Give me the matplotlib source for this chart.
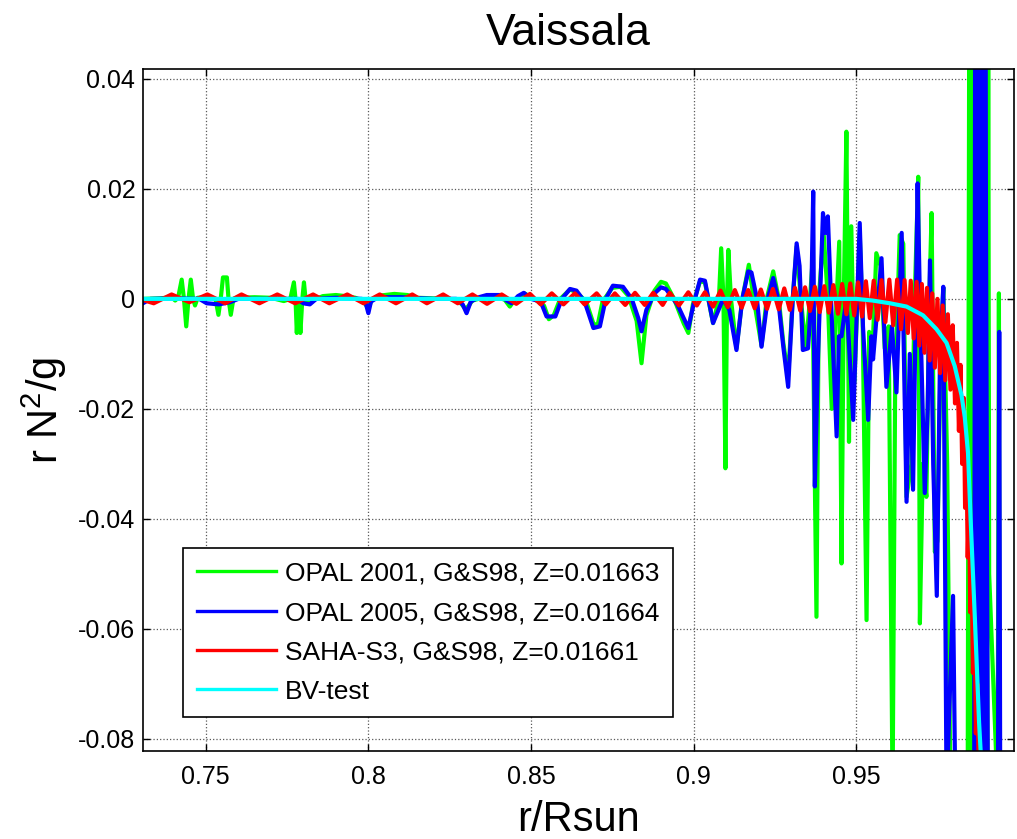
import numpy as np
import matplotlib
matplotlib.use('Agg')
import matplotlib.pyplot as plt

plt.rcParams['font.family'] = ['Liberation Sans', 'DejaVu Sans']
plt.rcParams['mathtext.default'] = 'regular'
plt.rcParams['axes.unicode_minus'] = False

# ---- data (r/Rsun, r N^2/g) ----
r_opal01 = [0.7307, 0.7360, 0.7395, 0.7406, 0.7415, 0.7426, 0.7433, 0.7440, 0.7447, 0.7454,
            0.7461, 0.7467, 0.7475, 0.7500, 0.7530, 0.7539, 0.7546, 0.7553, 0.7565, 0.7570,
            0.7577, 0.7585, 0.7595, 0.7650, 0.7700, 0.7740, 0.7760, 0.7771, 0.7776, 0.7780,
            0.7785, 0.7791, 0.7797, 0.7802, 0.7808, 0.7818, 0.7830, 0.7860, 0.7900, 0.7930,
            0.7960, 0.7985, 0.8000, 0.8010, 0.8036, 0.8080, 0.8120, 0.8150, 0.8200, 0.8250,
            0.8280, 0.8300, 0.8320, 0.8364, 0.8400, 0.8420, 0.8435, 0.8450, 0.8480, 0.8510,
            0.8540, 0.8555, 0.8570, 0.8590, 0.8620, 0.8640, 0.8670, 0.8692, 0.8705, 0.8720,
            0.8750, 0.8775, 0.8800, 0.8825, 0.8840, 0.8855, 0.8880, 0.8900, 0.8915, 0.8940,
            0.8970, 0.8984, 0.8998, 0.9020, 0.9035, 0.9060, 0.9078, 0.9085, 0.9092, 0.9098,
            0.9103, 0.9107, 0.9115, 0.9132, 0.9150, 0.9170, 0.9185, 0.9209, 0.9225, 0.9245,
            0.9262, 0.9276, 0.9291, 0.9305, 0.9317, 0.9330, 0.9345, 0.9358, 0.9365, 0.9378,
            0.9385, 0.9400, 0.9413, 0.9425, 0.9440, 0.9448, 0.9455, 0.9462, 0.9470, 0.9478,
            0.9485, 0.9495, 0.9511, 0.9520, 0.9532, 0.9540, 0.9550, 0.9562, 0.9575, 0.9588,
            0.9600, 0.9612, 0.9620, 0.9634, 0.9645, 0.9655, 0.9670, 0.9680, 0.9691, 0.9696,
            0.9705, 0.9716, 0.9725, 0.9732, 0.9742, 0.9750, 0.9760, 0.9768, 0.9780, 0.9790,
            0.9843, 0.9848, 0.9853, 0.9858, 0.9862, 0.9896, 0.9899, 0.9903, 0.9906, 0.9909,
            0.9935, 0.9939, 0.9941]
y_opal01 = [0.0, 0.0001, 0.0003, -0.0003, 0.0002, 0.0035, 0.0, -0.0050, 0.0, 0.0035,
            0.0, -0.0012, 0.0002, 0.0003, 0.0, -0.0029, 0.0, 0.0039, 0.0039, 0.0,
            -0.0029, 0.0, 0.0002, 0.0003, 0.0002, -0.0004, 0.0, 0.0030, 0.0, -0.0062,
            0.0, -0.0062, 0.0, 0.0030, -0.0008, -0.0004, -0.0002, 0.0005, 0.0007, 0.0005,
            0.0002, -0.0004, -0.0018, -0.0002, 0.0006, 0.0009, 0.0007, 0.0002, 0.0001, 0.0,
            -0.0005, -0.0019, -0.0003, 0.0004, 0.0003, -0.0002, -0.0014, -0.0002, 0.0010, 0.0,
            -0.0012, -0.0037, -0.0030, 0.0, 0.0017, 0.0012, -0.0005, -0.0045, -0.0048, -0.0005,
            0.0020, 0.0022, 0.0005, -0.0040, -0.0117, -0.0030, 0.0015, 0.0031, 0.0028, 0.0,
            -0.0045, -0.0062, -0.0010, 0.0032, 0.0030, -0.0044, 0.0, 0.0092, 0.0, -0.0308,
            0.0, 0.0089, 0.0, -0.0090, 0.0, 0.0062, 0.0, -0.0085, 0.0, 0.0050,
            0.0, -0.0080, -0.0140, 0.0, 0.0095, 0.0, -0.0090, 0.0, 0.0060, -0.0578,
            0.0, 0.0120, 0.0, -0.0200, 0.0, 0.0104, -0.0481, 0.0, 0.0304, -0.0260,
            0.0132, -0.0150, 0.0120, -0.0040, -0.0584, -0.0060, -0.0100, 0.0083, 0.0060, -0.0090,
            -0.0050, -0.0900, -0.0150, 0.0116, 0.0100, -0.0360, -0.0300, 0.0, 0.0222, -0.0590,
            -0.0300, -0.0360, 0.0, 0.0156, -0.0460, -0.0440, -0.0100, 0.0020, -0.0300, -0.0900,
            -0.0900, 0.0600, -0.0900, 0.0600, -0.0900, -0.0900, 0.0600, -0.0900, 0.0600, -0.0500,
            -0.0900, 0.0010, -0.0750]

r_opal05 = [0.7307, 0.7330, 0.7400, 0.7480, 0.7503, 0.7540, 0.7575, 0.7600, 0.7700, 0.7780,
            0.7800, 0.7820, 0.7840, 0.7900, 0.7980, 0.7993, 0.8000, 0.8008, 0.8030, 0.8100,
            0.8200, 0.8270, 0.8290, 0.8302, 0.8315, 0.8340, 0.8364, 0.8405, 0.8425, 0.8440,
            0.8460, 0.8478, 0.8500, 0.8530, 0.8548, 0.8575, 0.8595, 0.8620, 0.8640, 0.8665,
            0.8692, 0.8712, 0.8730, 0.8752, 0.8783, 0.8810, 0.8830, 0.8840, 0.8855, 0.8880,
            0.8900, 0.8915, 0.8950, 0.8984, 0.9000, 0.9020, 0.9035, 0.9060, 0.9091, 0.9110,
            0.9132, 0.9150, 0.9168, 0.9178, 0.9195, 0.9209, 0.9228, 0.9245, 0.9260, 0.9276,
            0.9291, 0.9305, 0.9317, 0.9326, 0.9336, 0.9352, 0.9362, 0.9368, 0.9373, 0.9383,
            0.9398, 0.9405, 0.9413, 0.9424, 0.9440, 0.9447, 0.9455, 0.9470, 0.9491, 0.9511,
            0.9521, 0.9537, 0.9547, 0.9552, 0.9578, 0.9593, 0.9610, 0.9624, 0.9640, 0.9655,
            0.9665, 0.9675, 0.9689, 0.9696, 0.9711, 0.9720, 0.9727, 0.9737, 0.9748, 0.9758,
            0.9768, 0.9778, 0.9798, 0.9805, 0.9863, 0.9866, 0.9870, 0.9874, 0.9878, 0.9882,
            0.9886, 0.9890, 0.9893, 0.9897, 0.9899, 0.9905, 0.9936, 0.9940, 0.9943]
y_opal05 = [-0.0008, 0.0, 0.0001, 0.0, -0.0008, -0.0010, -0.0006, 0.0, 0.0, 0.0,
            -0.0008, -0.0010, 0.0, 0.0002, 0.0, -0.0010, -0.0026, -0.0005, 0.0003, 0.0003,
            0.0, 0.0, -0.0010, -0.0026, -0.0005, 0.0003, 0.0007, 0.0007, -0.0003, -0.0008,
            0.0005, 0.0011, 0.0, -0.0005, -0.0032, -0.0032, 0.0, 0.0018, 0.0015, -0.0005,
            -0.0053, -0.0050, 0.0, 0.0024, 0.0022, 0.0, -0.0035, -0.0059, -0.0020, 0.0010,
            0.0021, 0.0018, -0.0010, -0.0053, -0.0010, 0.0035, 0.0033, -0.0044, 0.0, -0.0020,
            -0.0093, 0.0, 0.0050, 0.0048, 0.0, -0.0087, 0.0, 0.0038, 0.0, -0.0087,
            -0.0160, 0.0, 0.0101, 0.0060, -0.0093, -0.0090, 0.0, 0.0195, -0.0341, -0.0100,
            0.0156, 0.0120, 0.0150, -0.0020, -0.0250, -0.0068, -0.0068, 0.0, -0.0220, 0.0138,
            -0.0050, -0.0220, -0.0068, -0.0110, 0.0074, -0.0160, -0.0050, -0.0170, 0.0120, -0.0369,
            -0.0100, -0.0347, 0.0210, 0.0, -0.0353, -0.0200, 0.0070, -0.0300, -0.0540, -0.0100,
            0.0022, -0.0900, -0.0540, -0.0900, -0.0900, 0.0600, -0.0900, 0.0600, -0.0900, 0.0600,
            -0.0900, 0.0600, -0.0900, 0.0600, 0.0200, -0.0900, -0.0900, -0.0060, -0.0900]

r_saha = [0.7307, 0.7340, 0.7395, 0.7450, 0.7505, 0.7560, 0.7610, 0.7665, 0.7720, 0.7775,
          0.7830, 0.7880, 0.7935, 0.7985, 0.8035, 0.8085, 0.8135, 0.8180, 0.8230, 0.8275,
          0.8320, 0.8365, 0.8410, 0.8455, 0.8497, 0.8530, 0.8564, 0.8600, 0.8635, 0.8665,
          0.8702, 0.8730, 0.8758, 0.8790, 0.8820, 0.8850, 0.8876, 0.8905, 0.8927, 0.8955,
          0.8984, 0.9010, 0.9035, 0.9060, 0.9083, 0.9105, 0.9127, 0.9148, 0.9168, 0.9188,
          0.9207, 0.9226, 0.9244, 0.9262, 0.9279, 0.9296, 0.9312, 0.9328, 0.9343, 0.9358,
          0.9373, 0.9388, 0.9402, 0.9416, 0.9430, 0.9444, 0.9457, 0.9470, 0.9482, 0.9494,
          0.9506, 0.9518, 0.9530, 0.9542, 0.9554, 0.9566, 0.9578, 0.9590, 0.9602, 0.9614,
          0.9626, 0.9638, 0.9649, 0.9659, 0.9668, 0.9677, 0.9686, 0.9694, 0.9702, 0.9710,
          0.9718, 0.9726, 0.9734, 0.9742, 0.9750, 0.9758, 0.9766, 0.9774, 0.9782, 0.9790,
          0.9797, 0.9804, 0.9810, 0.9816, 0.9821, 0.9826, 0.9831, 0.9835, 0.9839, 0.9843,
          0.9847, 0.9851, 0.9855, 0.9859, 0.9864, 0.9868, 0.9873, 0.9878]
y_saha = [-0.0002, -0.0008, 0.0008, -0.0006, 0.0008, -0.0008, 0.0008, -0.0008, 0.0008, -0.0008,
          0.0008, -0.0008, 0.0008, -0.0008, 0.0008, -0.0008, 0.0008, -0.0008, 0.0008, -0.0008,
          0.0008, -0.0009, 0.0008, -0.0009, 0.0009, -0.0010, 0.0010, -0.0010, 0.0010, -0.0010,
          0.0010, -0.0010, 0.0010, -0.0011, 0.0011, -0.0011, 0.0011, -0.0011, 0.0011, -0.0012,
          0.0012, -0.0012, 0.0012, -0.0014, 0.0015, -0.0015, 0.0016, -0.0016, 0.0016, -0.0017,
          0.0017, -0.0018, 0.0018, -0.0019, 0.0019, -0.0020, 0.0020, -0.0021, 0.0021, -0.0022,
          0.0022, -0.0024, 0.0023, -0.0025, 0.0025, -0.0027, 0.0027, -0.0028, 0.0028, -0.0030,
          0.0030, -0.0032, 0.0032, -0.0035, 0.0033, -0.0038, 0.0034, -0.0042, 0.0035, -0.0048,
          0.0035, -0.0055, 0.0034, -0.0062, 0.0033, -0.0072, 0.0031, -0.0085, 0.0027, -0.0098,
          0.0020, -0.0112, 0.0010, -0.0125, 0.0000, -0.0135, -0.0012, -0.0148, -0.0028, -0.0165,
          -0.0048, -0.0190, -0.0080, -0.0240, -0.0120, -0.0300, -0.0180, -0.0380, -0.0260, -0.0470,
          -0.0360, -0.0570, -0.0470, -0.0680, -0.0580, -0.0790, -0.0700, -0.0900]

r_bv = [0.7307, 0.9500, 0.9550, 0.9604, 0.9655, 0.9706, 0.9747, 0.9778, 0.9803, 0.9824,
        0.9834, 0.9844, 0.9852, 0.9865, 0.9878, 0.9890]
y_bv = [0.0, 0.0, -0.0003, -0.0008, -0.0014, -0.0030, -0.0055, -0.0080, -0.0122, -0.0175,
        -0.0215, -0.0280, -0.0400, -0.0580, -0.0770, -0.0900]

labels = ['OPAL 2001, G&S98, Z=0.01663', 'OPAL 2005, G&S98, Z=0.01664',
          'SAHA-S3, G&S98, Z=0.01661', 'BV-test']
xticks = [0.75, 0.8, 0.85, 0.9, 0.95]
xtick_labels = ['0.75', '0.8', '0.85', '0.9', '0.95']
yticks = [-0.08, -0.06, -0.04, -0.02, 0, 0.02, 0.04]
ytick_labels = ['-0.08', '-0.06', '-0.04', '-0.02', '0', '0.02', '0.04']

fig = plt.figure(figsize=(10.17, 8.39), dpi=100)
ax = fig.add_axes([0.1406, 0.1049, 0.856, 0.8129])

lw = 3.0
ax.plot(r_opal01, y_opal01, color=(0, 1, 0), lw=lw, label=labels[0])
ax.plot(r_opal05, y_opal05, color=(0, 0, 1), lw=lw, label=labels[1])
ax.plot(r_saha, y_saha, color=(1, 0, 0), lw=lw, label=labels[2])
ax.plot(r_bv, y_bv, color=(0, 1, 1), lw=lw, label=labels[3])

ax.set_xlim(0.7307, 0.9984)
ax.set_ylim(-0.0822, 0.0418)
ax.set_xticks(xticks)
ax.set_xticklabels(xtick_labels)
ax.set_yticks(yticks)
ax.set_yticklabels(ytick_labels)
ax.tick_params(direction='in', top=True, right=True, length=5, width=1,
               labelsize=18)
ax.tick_params(axis='x', pad=10)
ax.tick_params(axis='y', pad=5.5)
ax.grid(True, linestyle=':', color='0.35', lw=0.9)
for s in ax.spines.values():
    s.set_linewidth(1.2)

ax.set_title('Vaissala', fontsize=32, pad=17, x=0.4885)
ax.set_xlabel('r/Rsun', fontsize=30, labelpad=8)
ax.set_ylabel('r N$^2$/g', fontsize=30)
ax.yaxis.set_label_coords(-0.085, 0.5)

leg = ax.legend(loc='upper left', bbox_to_anchor=(183 / 1017, 1 - 548 / 839),
                bbox_transform=fig.transFigure, borderaxespad=0, fontsize=19,
                fancybox=False, framealpha=1, edgecolor='black',
                handlelength=3.0, labelspacing=0.58, handletextpad=0.35,
                borderpad=0.52)
leg.get_frame().set_linewidth(1.2)
for line in leg.get_lines():
    line.set_linewidth(2.4)

fig.savefig('out.png', dpi=100)
